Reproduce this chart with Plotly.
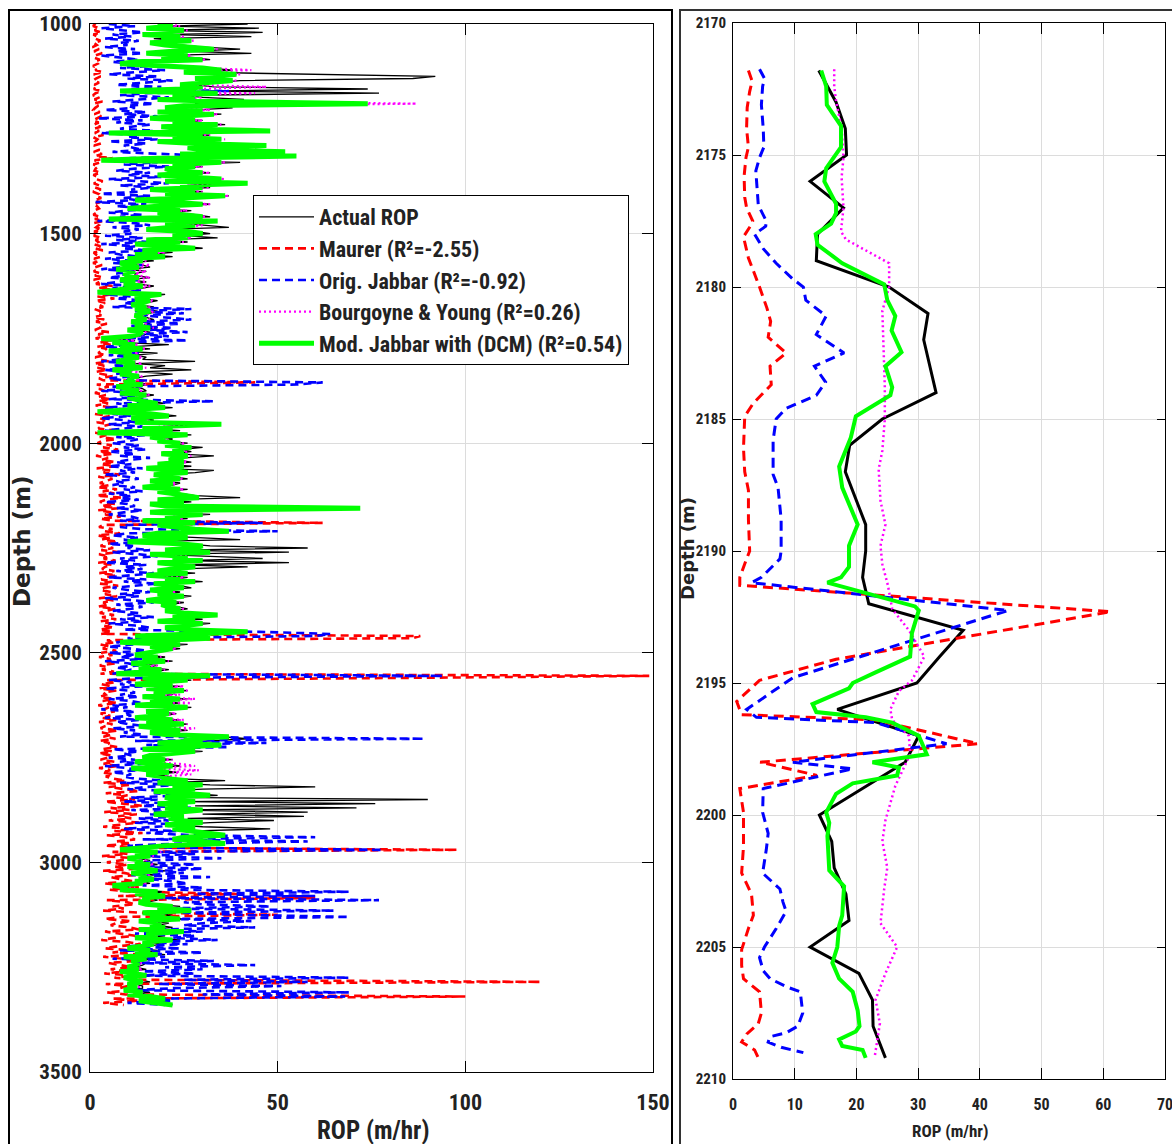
import plotly.graph_objects as go

# ---------------- LEFT PANEL DATA (depth every 5 m) ----------------
depth_left = list(range(1000, 3341, 5))

actual_left = [
    42,20,45,18,46,22,43,17,25,20,  24,30,40,26,43,20,28,32,15,12,
    25,32,38,28,61,92,86,40,33,28,  33,74,30,77,25,30,41,38,28,30,
    38,28,22,35,26,20,30,25,36,22,  28,37,12,32,25,33,20,30,35,28,
    32,35,26,38,22,10,40,25,30,24,  25,32,22,30,33,24,36,26,32,20,
    30,22,37,28,16,25,32,20,15,27,  22,28,32,12,33,24,30,37,20,28,
    32,25,34,18,26,15,24,30,17,22,  15,22,13,17,10,14,16,10,15,12,
    12,16,10,15,12,17,14,9,5,20,    16,14,18,15,13,17,14,18,16,14,
    15,17,13,16,14,18,12,16,15,13,  6,12,9,21,10,16,8,18,12,15,
    14,28,12,20,16,27,13,22,15,12,  14,12,16,10,14,15,11,17,13,14,
    16,20,13,22,14,5,18,23,14,17,   15,30,20,16,24,5,27,19,22,20,
    26,22,30,24,27,22,33,25,23,27,  20,27,17,33,28,19,22,26,18,24,
    22,16,26,20,24,28,40,20,27,18,  22,60,27,18,32,22,26,16,30,20,
    24,30,33,20,16,28,40,13,26,32,  58,22,53,18,30,46,25,53,24,42,
    24,20,28,17,26,22,30,19,24,27,  18,24,20,27,22,17,25,21,23,26,
    22,27,32,24,30,20,32,26,22,28,  38,30,14,30,22,10,26,18,24,20,
    17,14,20,16,22,13,18,15,21,17,  9,28,16,27,20,14,24,17,26,19,
    22,16,26,18,24,14,27,20,17,23,  20,14,24,17,26,15,21,26,18,22,
    35,42,32,20,33,24,16,30,22,18,  16,22,14,20,24,13,18,23,17,21,
    22,36,20,32,60,30,19,26,34,22,  90,25,76,28,71,24,58,30,57,26,
    49,32,22,30,48,28,34,33,27,24,  32,33,22,16,10,20,14,18,12,16,
    14,18,12,16,20,13,17,15,19,14,  16,8,12,10,20,14,22,16,18,15,
    17,24,20,25,16,22,18,25,15,21,  18,22,15,24,17,20,14,24,16,19,
    16,12,18,14,20,11,17,13,15,14,  12,15,10,14,17,11,13,16,12,14,
    14,11,16,12,18,21,15,19,22,
]

maurer_left = [
    1.5,0.8,2.5,1.2,3.0,0.9,2.0,1.4,2.8,1.0,  1.8,0.7,2.4,1.1,3.2,1.5,0.9,2.6,1.3,2.0,
    0.8,2.2,1.4,3.5,1.0,2.8,1.6,0.9,2.4,1.2,  2.0,1.0,3.0,1.5,0.8,2.5,1.2,3.3,1.0,2.2,
    1.4,0.9,2.6,1.2,3.0,1.7,0.8,2.3,1.1,2.8,  1.0,2.4,1.3,3.6,0.9,2.0,1.5,2.9,1.1,1.8,
    2.5,1.0,3.2,1.4,6.0,1.2,2.7,0.9,2.2,1.5,  1.2,2.8,0.9,2.0,1.6,3.4,1.0,2.4,1.3,2.9,
    0.8,2.2,1.5,3.0,1.1,2.6,0.9,1.9,2.4,1.2,  1.7,0.9,2.8,1.3,3.5,1.0,2.3,1.6,3.0,1.1,
    2.4,1.0,3.0,1.5,2.2,0.9,2.8,1.3,3.4,1.0,  1.6,2.9,1.1,2.4,0.8,3.2,1.4,2.0,1.0,2.7,
    1.3,3.5,1.0,2.5,1.6,6.0,2.2,7.0,3.0,5.5,  2.0,6.5,1.5,4.0,2.5,3.5,1.2,2.8,1.8,3.0,
    1.0,3.8,1.6,4.5,2.0,2.6,1.3,5.0,2.2,3.4,  1.5,6.0,2.5,5.5,1.8,4.5,3.0,2.2,4.0,1.4,
    2.6,5.0,1.2,3.8,2.0,4.6,1.5,3.2,6.0,2.4,  3.5,44,1.8,5.0,2.4,3.8,1.3,4.2,2.0,5.5,
    2.2,4.8,1.5,6.5,2.8,3.6,1.2,5.2,2.5,4.0,  1.8,5.5,3.0,2.2,6.8,1.4,4.5,2.6,7.0,3.2,
    2.0,5.8,3.5,7.5,2.4,6.2,1.6,4.8,3.0,6.6,  2.8,7.0,1.8,5.4,3.6,8.0,2.2,6.0,4.0,2.6,
    5.0,2.0,7.2,3.4,6.5,1.8,8.5,4.2,2.6,6.8,  3.0,7.5,2.2,5.6,4.0,8.2,2.8,6.4,62,3.5,
    2.4,6.0,3.8,8.0,2.0,5.5,3.2,7.4,4.5,2.8,  6.2,3.0,7.8,2.4,5.0,3.6,6.8,2.2,5.8,4.0,
    3.2,6.5,2.5,7.0,4.2,3.0,6.0,2.6,7.5,3.8,  2.8,5.6,4.0,7.2,2.4,6.2,3.5,5.0,2.2,6.8,
    4.0,2.6,6.4,3.2,7.0,2.8,5.4,3.6,6.2,2.5,  5.8,3.0,88,86,4.5,6.6,2.8,5.2,3.4,7.0,
    3.0,6.0,2.4,5.5,3.8,7.2,2.6,4.8,3.2,6.4,  2.8,149,82,4.6,6.8,3.0,5.6,2.4,7.0,3.6,
    4.2,2.6,6.2,3.4,7.4,2.2,5.0,3.8,6.6,2.8,  5.4,3.0,7.0,2.4,6.0,4.0,2.8,7.6,3.2,5.8,
    3.6,6.8,2.6,5.2,4.4,7.2,3.0,6.0,2.4,5.6,  4.8,2.8,6.6,3.6,7.8,2.4,5.4,3.2,6.2,4.2,
    6.0,9.5,3.5,11,5.0,8.5,13,4.2,10,7.0,     12,4.0,9.0,14,5.5,10.5,3.8,12.5,7.5,11,
    5.0,13,8.0,3.5,11.5,6.5,14,4.5,9.5,12,    7.0,11,4.0,13.5,97.8,6.0,10,3.2,12,8.5,
    4.5,10,6.5,13,3.5,9.0,12,5.5,8.0,11.5,    3.8,9.5,13,5.0,11,40,7.5,60,4.5,10,
    12,6.0,9.0,3.5,13.5,50,8.5,4.0,11,7.0,    5.5,10.5,13,4.0,8.0,12,6.5,3.0,10,13.5,
    7.5,4.0,11,6.0,13,3.5,9.0,12.5,5.0,8.5,   11,5.5,9.5,3.8,12,6.5,14,120,4.2,10,
    8.0,12,4.5,9.5,100,6.0,13,3.5,9.0,
]

jabbar_left = [
    5,12,3,9,14,6,11,4,13,8,     10,4,12,7,14,3,9,13,6,11,
    16,8,20,12,5,18,10,22,14,7,  19,11,37,15,8,21,13,6,17,10,
    12,4,15,9,18,2,14,7,16,11,   8,17,3,13,10,18,5,15,9,12,
    14,6,20,33,11,4,18,9,21,12,  7,16,10,19,5,14,21,8,17,11,
    13,3,16,9,12,1.5,15,7,17,10, 5,14,8,17,2,12,16,6,13,9,
    11,4,14,7,16,3,12,9,15,5,    8,13,4,11,6,14,9,3,12,7,
    10,5,13,8,3,12,6,14,9,4,     11,7,15,9,13,6,27,12,25,14,
    20,27,14,24,11,22,16,26,13,21, 9,26,6,12,4,10,7,13,5,11,
    8,3,12,6,14,4,10,7,13,5,     9,62,55,6,11,3,13,8,12,5,
    33,7,12,4,10,14,6,11,3,9,    12,5,14,8,4,11,16,7,13,10,
    6,13,9,15,5,12,8,16,10,7,    11,5,14,8,12,4,10,13,7,9,
    6,12,9,14,5,11,8,13,4,10,    12,7,14,9,5,11,13,8,46,10,
    8,14,50,10,6,13,9,15,5,12,   10,16,6,13,18,8,12,4,15,9,
    14,7,17,11,5,15,9,18,12,6,   10,16,8,13,4,12,17,7,14,11,
    6,13,10,17,8,14,5,12,16,9,   45,64,60,10,14,7,12,5,11,15,
    5,12,8,14,4,10,13,7,11,9,    6,94,13,5,11,8,14,4,10,12,
    8,13,5,11,14,6,10,3,12,9,    11,4,13,7,10,15,6,12,9,14,
    8,89,12,47,15,37,6,13,9,11,  5,12,8,14,4,10,13,6,11,9,
    12,20,8,24,15,10,22,17,26,11, 18,9,24,14,27,11,20,16,25,13,
    21,12,26,17,9,23,15,27,60,14, 58,25,10,22,78,18,28,12,35,16,
    15,28,12,30,18,25,11,32,16,22, 26,14,30,20,69,28,60,18,77,25,
    30,48,20,65,24,40,69,22,43,30, 25,44,18,30,12,28,22,34,16,26,
    10,24,8,30,14,20,6,33,12,44, 20,30,14,28,12,69,25,58,18,51,
    22,12,69,30,68,18,22,10,20,
]

bourgoyne_left = [
    20,24,17,26,22,16,25,21,28,18,  22,29,34,24,17,27,21,31,14,10,
    24,31,43,27,40,33,30,39,32,26,  47,27,10,44,24,30,20,37,87,42,
    22,32,20,34,26,18,30,24,35,21,  27,46,8,32,24,36,20,30,45,28,
    32,50,26,53,20,6,36,24,30,22,   24,32,20,28,36,22,40,26,32,18,
    30,22,37,27,14,24,32,20,12,26,  20,27,31,8,33,22,30,24,17,27,
    29,23,27,17,25,14,22,28,16,20,  14,16,12,15,10,16,14,11,15,12,
    13,16,11,15,12,16,14,10,5,18,   15,14,17,15,13,16,14,17,16,14,
    14,16,13,15,14,17,12,15,14,13,  6,12,8,13,10,15,8,13,11,14,
    12,10,14,11,15,9,13,10,14,12,   13,11,15,10,13,14,10,16,12,13,
    15,18,12,20,14,5,17,20,13,16,   14,32,19,16,22,5,25,18,21,19,
    25,22,27,24,26,21,27,24,23,26,  20,25,17,23,26,19,22,25,18,23,
    22,16,25,20,23,26,28,20,25,18,  22,65,26,18,30,22,25,16,28,20,
    23,28,35,20,16,26,22,13,25,29,  28,22,31,18,26,23,29,20,25,28,
    23,20,26,17,25,22,28,19,23,25,  18,23,20,25,21,17,24,20,22,25,
    22,25,32,23,28,20,29,25,22,26,  38,28,15,30,22,11,24,18,23,20,
    17,14,19,16,21,13,18,15,20,17,  10,29,16,26,19,14,25,17,26,19,
    24,16,28,18,27,14,26,20,17,23,  20,15,25,17,26,15,28,24,18,22,
    34,25,29,20,33,23,17,27,22,18,  17,22,15,24,28,14,29,22,27,20,
    22,26,20,29,23,27,19,24,30,22,  23,27,20,26,22,29,24,19,25,22,
    25,29,22,27,23,26,30,33,25,23,  28,33,21,16,11,19,14,17,12,15,
    14,17,12,15,18,13,16,14,17,13,  15,9,12,10,18,13,19,15,16,14,
    16,21,18,25,15,20,17,23,14,19,  17,20,15,24,16,18,14,21,15,17,
    15,12,16,13,18,11,15,12,14,13,  12,14,10,13,15,11,12,14,11,13,
    13,11,14,12,16,19,14,17,20,
]

modjabbar_left = [
    18,22,15,25,20,14,24,19,27,16,  20,28,33,22,15,26,19,30,12,8,
    22,30,35,25,39,32,28,38,30,24,  30,25,8,34,22,28,18,36,74,25,
    20,30,18,33,24,16,28,22,34,19,  25,48,5,30,22,35,18,28,47,26,
    30,52,24,55,18,3,35,22,28,20,   22,30,18,26,35,20,42,24,30,16,
    28,20,36,25,12,22,30,18,10,24,  18,25,30,5,34,20,28,22,15,26,
    30,22,26,15,24,12,20,28,14,18,  12,20,10,14,8,11,13,7,12,9,
    10,13,8,12,9,14,11,7,2,19,      14,12,16,13,11,15,12,16,14,12,
    13,15,11,14,12,16,10,14,13,11,  3,10,6,12,8,14,5,11,9,13,
    10,7,12,9,14,6,11,8,13,10,      12,9,14,7,11,13,8,15,10,12,
    14,18,10,20,12,2,16,21,11,15,   12,35,18,14,22,2,26,16,20,18,
    24,20,27,22,25,19,26,23,21,25,  18,25,15,22,26,17,20,24,16,22,
    20,14,24,18,22,26,29,18,25,16,  20,72,25,16,30,20,24,14,28,18,
    22,28,37,18,14,26,20,10,24,30,  28,20,32,16,26,22,30,18,24,28,
    22,18,26,15,24,20,28,17,22,25,  16,22,18,25,20,15,23,19,21,24,
    20,25,34,22,28,18,30,24,20,26,  42,28,12,32,20,8,24,16,22,18,
    15,12,18,14,20,11,16,13,19,15,  7,32,14,26,18,12,22,15,25,17,
    20,14,24,16,22,12,26,18,15,21,  18,12,22,15,25,13,19,24,16,20,
    37,25,30,18,35,22,14,28,20,16,  14,20,12,18,22,11,16,21,15,19,
    20,26,18,30,22,28,17,24,32,20,  22,28,18,26,20,30,24,17,25,21,
    24,30,20,28,22,26,32,36,25,22,  30,36,20,14,8,18,12,16,10,14,
    12,16,10,14,18,11,15,13,17,12,  14,6,10,8,18,12,20,14,16,13,
    15,22,18,27,14,20,16,24,13,19,  16,20,13,25,15,18,12,22,14,17,
    14,10,16,12,18,9,15,11,13,12,   10,13,8,12,15,9,11,14,10,12,
    12,9,14,10,16,20,13,18,22,
]

# ---------------- RIGHT PANEL DATA (zoom 2170-2210 m) ----------------
actual_zoom_depth = [2171.8, 2173, 2174, 2175, 2176, 2177, 2178, 2179, 2180, 2181, 2182, 2183,
                     2184, 2185, 2186, 2187, 2188, 2189, 2190, 2191, 2192, 2193, 2194, 2195,
                     2196, 2197, 2198, 2199, 2200, 2201, 2202, 2203, 2204, 2205, 2206, 2207,
                     2208, 2209.2]
actual_zoom = [13.9, 16.7, 18.2, 18.4, 12.5, 17.9, 13.7, 13.5, 25.3, 31.6, 30.9, 31.9,
               32.9, 24.2, 18.9, 18.2, 19.9, 21.5, 21.5, 21.0, 22.0, 37.3, 33.5, 29.8,
               16.9, 30.1, 27.9, 21.0, 14.0, 16.0, 16.4, 18.3, 18.8, 12.5, 20.4, 22.6,
               22.7, 24.7]

maurer_zoom_depth = [2171.8, 2172.2, 2172.6, 2173.2, 2174.0, 2174.7, 2175.1, 2175.8, 2176.6, 2177.0,
                     2177.5, 2177.7, 2178.1, 2178.9, 2180.0, 2180.8, 2181.3, 2181.9, 2182.5, 2183.0,
                     2183.7, 2184.4, 2184.9, 2186.1, 2187.0, 2187.7, 2188.8, 2190.0, 2190.3, 2191.0,
                     2191.3, 2192.3, 2194.1, 2194.9, 2195.7, 2196.2, 2196.4, 2197.3, 2198.0, 2198.5,
                     2199.0, 2199.9, 2201.2, 2202.2, 2202.6, 2203.0, 2203.8, 2204.3, 2205.1, 2205.7,
                     2206.2, 2206.7, 2207.5, 2207.9, 2208.3, 2208.6, 2208.9, 2209.2]
maurer_zoom = [2.5, 3.1, 2.7, 2.3, 2.2, 2.5, 2.1, 1.8, 1.9, 2.2,
               3.2, 2.8, 1.7, 2.5, 4.3, 5.5, 6.1, 5.7, 8.6, 6.0,
               6.2, 3.3, 1.9, 1.7, 1.9, 2.5, 2.5, 2.7, 2.2, 1.1,
               1.1, 61.2, 16.7, 4.3, 0.6, 1.4, 23.1, 39.7, 4.4, 13.6,
               1.1, 1.7, 1.7, 1.4, 2.2, 3.0, 3.3, 2.5, 1.4, 1.4,
               1.7, 4.3, 4.6, 4.1, 2.2, 1.4, 3.5, 4.1]

jabbar_zoom_depth = [2171.75, 2172.1, 2172.4, 2173.1, 2174.0, 2174.7, 2175.1, 2175.6, 2176.9, 2177.5,
                     2177.7, 2178.0, 2178.55, 2179.1, 2179.7, 2180.0, 2180.5, 2181.1, 2181.8, 2182.5,
                     2183.0, 2183.6, 2184.1, 2184.6, 2185.0, 2185.8, 2187.1, 2187.6, 2188.8, 2190.0,
                     2190.3, 2191.0, 2191.2, 2192.25, 2194.8, 2196.0, 2196.3, 2196.5, 2197.3, 2198.0,
                     2198.25, 2199.0, 2199.9, 2200.7, 2201.3, 2202.2, 2202.8, 2203.3, 2203.65, 2204.3,
                     2205.0, 2205.4, 2205.9, 2206.2, 2206.5, 2206.7, 2207.5, 2208.0, 2208.25, 2208.4,
                     2208.6, 2208.8, 2209.0]
jabbar_zoom = [4.3, 5.1, 4.8, 4.6, 4.9, 5.0, 4.3, 3.7, 4.1, 5.4,
               5.3, 3.5, 4.9, 7.0, 9.7, 11.4, 11.8, 15.1, 13.5, 18.0,
               13.2, 15.0, 13.5, 8.6, 7.0, 6.5, 6.5, 7.3, 7.8, 7.8,
               7.6, 4.6, 3.0, 44.6, 9.7, 2.2, 3.8, 23.1, 34.6, 9.7,
               19.4, 4.9, 4.8, 5.7, 5.4, 4.8, 7.6, 8.1, 8.6, 7.0,
               5.1, 4.3, 4.9, 6.0, 8.6, 10.9, 11.3, 10.5, 8.6, 6.0,
               5.7, 7.8, 11.4]

bourgoyne_zoom_depth = [2171.75, 2172.4, 2172.95, 2174.0, 2175.1, 2175.85, 2177.0, 2177.9, 2178.2, 2179.0,
                        2179.1, 2180.0, 2180.9, 2183.8, 2185.0, 2186.2, 2186.9, 2188.1, 2189.0, 2189.8,
                        2190.5, 2191.3, 2192.2, 2193.0, 2194.0, 2194.9, 2195.3, 2196.0, 2196.4, 2197.0,
                        2197.7, 2198.9, 2200.2, 2201.0, 2202.0, 2202.8, 2204.1, 2205.0, 2206.0, 2207.0,
                        2207.9, 2208.5, 2209.1]
bourgoyne_zoom = [16.4, 16.4, 16.7, 17.6, 17.9, 17.6, 17.9, 17.5, 18.3, 24.7,
                  25.3, 25.3, 24.2, 24.6, 24.6, 24.2, 23.6, 23.9, 24.7, 23.9,
                  24.2, 25.1, 25.8, 28.5, 31.0, 29.0, 26.9, 25.5, 25.8, 28.5,
                  28.7, 26.3, 24.7, 24.2, 25.0, 24.5, 23.9, 26.6, 24.7, 23.1,
                  23.8, 23.4, 23.0]

modjabbar_zoom_depth = [2171.8, 2172.4, 2173.1, 2173.9, 2174.7, 2175.5, 2176.0, 2176.85, 2177.2, 2177.6,
                        2178.0, 2178.4, 2179.1, 2179.9, 2180.5, 2181.1, 2181.65, 2182.47, 2183.0, 2183.8,
                        2184.1, 2184.9, 2185.7, 2186.8, 2187.6, 2189.0, 2189.8, 2190.6, 2191.0, 2191.2,
                        2192.1, 2192.25, 2193.1, 2194.0, 2194.6, 2195.0, 2195.2, 2195.8, 2196.1, 2196.3,
                        2196.5, 2197.0, 2197.7, 2198.0, 2198.2, 2198.5, 2198.8, 2199.2, 2199.9, 2200.3,
                        2200.8, 2202.1, 2202.7, 2203.8, 2204.2, 2205.0, 2205.6, 2206.2, 2206.7, 2207.4,
                        2208.0, 2208.2, 2208.5, 2208.75, 2208.9, 2209.2]
modjabbar_zoom = [14.3, 15.1, 15.2, 17.5, 17.5, 15.1, 14.8, 16.7, 16.7, 15.9,
                  13.4, 13.7, 17.7, 24.5, 25.0, 26.3, 25.7, 27.3, 24.7, 25.8,
                  25.5, 19.9, 19.1, 17.2, 17.7, 20.2, 18.8, 18.8, 17.5, 15.3,
                  29.5, 30.1, 29.0, 28.7, 23.1, 19.4, 18.8, 12.9, 13.5, 21.5,
                  25.8, 30.1, 31.4, 22.6, 26.9, 26.6, 19.4, 16.7, 15.1, 15.6,
                  15.3, 15.6, 18.0, 17.7, 17.2, 16.9, 16.1, 17.2, 19.4, 20.2,
                  20.5, 19.9, 17.2, 17.7, 21.0, 21.5]

series_names = ["Actual ROP", "Maurer (R²=-2.55)", "Orig. Jabbar (R²=-0.92)",
                "Bourgoyne & Young (R²=0.26)", "Mod. Jabbar with (DCM) (R²=0.54)"]

left_ticks_x = [0, 50, 100, 150]
left_ticks_y = [1000, 1500, 2000, 2500, 3000, 3500]
right_ticks_x = [0, 10, 20, 30, 40, 50, 60, 70]
right_ticks_y = [2170, 2175, 2180, 2185, 2190, 2195, 2200, 2205, 2210]

# ---------------- FIGURE ----------------
W, H = 1172, 1144
NARROW = "Roboto Condensed, Liberation Sans Narrow, Arial Narrow, Liberation Sans, Arial, sans-serif"
WIDE = "DejaVu Sans, Verdana, sans-serif"
TXT = "#222"

left_styles = [
    dict(color="black", width=1.3),
    dict(color="#ff0000", width=2.6, dash="8px,5px"),
    dict(color="#0000ff", width=2.6, dash="8px,5px"),
    dict(color="#ff00ff", width=2.2, dash="2px,3px"),
    dict(color="#00ff00", width=5),
]
right_styles = [
    dict(color="black", width=3),
    dict(color="#ff0000", width=3, dash="10px,6px"),
    dict(color="#0000ff", width=3, dash="10px,6px"),
    dict(color="#ff00ff", width=2.5, dash="2px,3px"),
    dict(color="#00ff00", width=4),
]

fig = go.Figure()
left_vals = [actual_left, maurer_left, jabbar_left, bourgoyne_left, modjabbar_left]
for name, vals, st in zip(series_names, left_vals, left_styles):
    n = min(len(vals), len(depth_left))
    fig.add_trace(go.Scatter(x=vals[:n], y=depth_left[:n], mode="lines", name=name,
                             line=st, xaxis="x", yaxis="y", showlegend=True))

right_sets = [(actual_zoom, actual_zoom_depth), (maurer_zoom, maurer_zoom_depth),
              (jabbar_zoom, jabbar_zoom_depth), (bourgoyne_zoom, bourgoyne_zoom_depth),
              (modjabbar_zoom, modjabbar_zoom_depth)]
for name, (vals, dep), st in zip(series_names, right_sets, right_styles):
    fig.add_trace(go.Scatter(x=vals, y=dep, mode="lines", name=name,
                             line=st, xaxis="x2", yaxis="y2", showlegend=False))

grid = "#dcdcdc"
common = dict(showline=True, linecolor="black", linewidth=1, mirror="ticks",
              ticks="inside", tickcolor="black", tickwidth=1.2, automargin=False,
              ticklabeloverflow="allow",
              showgrid=True, gridcolor=grid, gridwidth=1, zeroline=False)

fig.update_layout(
    template="none",
    width=W, height=H, margin=dict(l=0, r=0, t=0, b=0, pad=0, autoexpand=False),
    paper_bgcolor="white", plot_bgcolor="white",
    xaxis=dict(domain=[90 / W, 653 / W], range=[0, 150], tickvals=left_ticks_x,
               anchor="y", ticklen=11, ticklabelstandoff=11,
               tickfont=dict(family=NARROW, size=22, color=TXT, weight="bold"), **common),
    yaxis=dict(domain=[(H - 1072) / H, (H - 24) / H], range=[3500, 1000], tickvals=left_ticks_y,
               anchor="x", ticklen=11, ticklabelstandoff=3,
               tickfont=dict(family=NARROW, size=21, color=TXT, weight="bold"), **common),
    xaxis2=dict(domain=[733 / W, 1165 / W], range=[0, 70], tickvals=right_ticks_x,
                anchor="y2", ticklen=11, ticklabelstandoff=11,
                tickfont=dict(family=NARROW, size=16, color=TXT, weight="bold"), **common),
    yaxis2=dict(domain=[(H - 1079) / H, (H - 23) / H], range=[2210, 2170], tickvals=right_ticks_y,
                anchor="x2", ticklen=8, ticklabelstandoff=3,
                tickfont=dict(family=NARROW, size=15, color=TXT, weight="bold"), **common),
    legend=dict(x=253 / W, y=1 - 195 / H, xanchor="left", yanchor="top",
                bgcolor="white", bordercolor="black", borderwidth=1,
                font=dict(family=NARROW, size=22, color=TXT, weight="bold"),
                itemwidth=55, tracegroupgap=0),
    showlegend=True,
)

fig.update_layout(annotations=[
    dict(text="Depth (m)", x=22 / W, y=1 - 541 / H, xref="paper", yref="paper",
         showarrow=False, textangle=-90, xanchor="center", yanchor="middle",
         font=dict(family=WIDE, size=23, color=TXT, weight="bold")),
    dict(text="ROP (m/hr)", x=374 / W, y=1 - 1130 / H, xref="paper", yref="paper",
         showarrow=False, xanchor="center", yanchor="middle",
         font=dict(family=NARROW, size=25, color=TXT, weight="bold")),
    dict(text="Depth (m)", x=687 / W, y=1 - 549 / H, xref="paper", yref="paper",
         showarrow=False, textangle=-90, xanchor="center", yanchor="middle",
         font=dict(family=WIDE, size=18, color=TXT, weight="bold")),
    dict(text="ROP (m/hr)", x=950 / W, y=1 - 1131 / H, xref="paper", yref="paper",
         showarrow=False, xanchor="center", yanchor="middle",
         font=dict(family=NARROW, size=17, color=TXT, weight="bold")),
])

fig.update_layout(shapes=[
    dict(type="rect", xref="paper", yref="paper", x0=9 / W, x1=672 / W, y0=-0.05, y1=1 - 10 / H,
         line=dict(color="black", width=2), layer="below"),
    dict(type="rect", xref="paper", yref="paper", x0=680 / W, x1=1.05, y0=-0.05, y1=1 - 10 / H,
         line=dict(color="#333", width=2), layer="below"),
])

fig.write_html("out.html")
